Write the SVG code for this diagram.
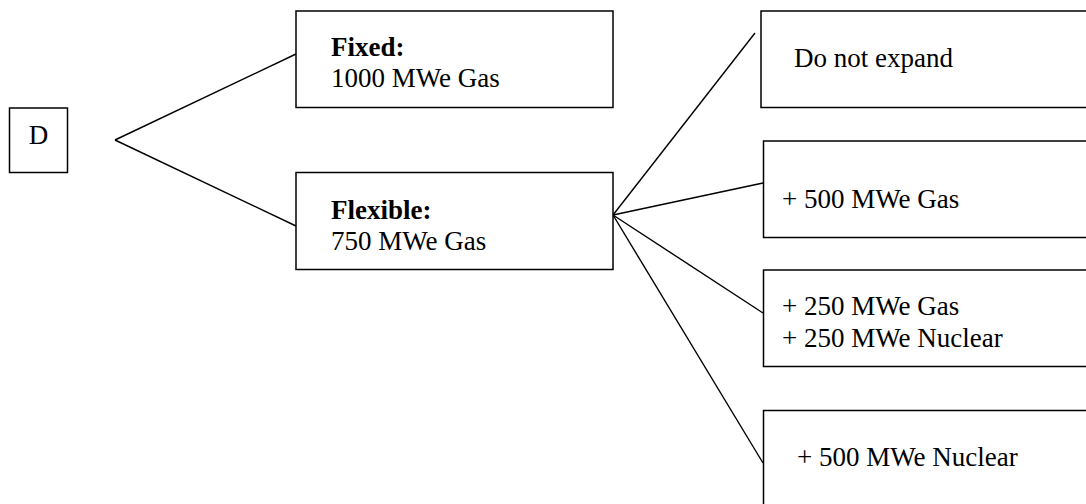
<svg xmlns="http://www.w3.org/2000/svg" width="1086" height="504" viewBox="0 0 1086 504">
<style>
.box{fill:#fff;stroke:#000;stroke-width:1.5}
.t{font-family:"Liberation Serif","Times New Roman",serif;font-size:27px;fill:#000}
.b{font-weight:bold}
.c{stroke:#000;stroke-width:1.4;fill:none}
</style>
<rect width="1086" height="504" fill="#fff"/>
<g id="connectors">
<line class="c" x1="115" y1="140" x2="296" y2="54"/>
<line class="c" x1="115" y1="140" x2="296" y2="226"/>
<line class="c" x1="613" y1="215" x2="755" y2="33"/>
<line class="c" x1="613" y1="215" x2="763" y2="183"/>
<line class="c" x1="613" y1="215" x2="763" y2="313"/>
<line class="c" x1="613" y1="215" x2="763" y2="463"/>
</g>
<g id="node-d">
<rect class="box" x="9.5" y="108" width="58" height="64.5"/>
<text class="t" x="38.5" y="144" text-anchor="middle">D</text>
</g>
<g id="node-fixed">
<rect class="box" x="296" y="11" width="317" height="96.5"/>
<text class="t b" x="331" y="56">Fixed:</text>
<text class="t" x="331" y="87">1000 MWe Gas</text>
</g>
<g id="node-flexible">
<rect class="box" x="296" y="172.5" width="317" height="97"/>
<text class="t b" x="331" y="219">Flexible:</text>
<text class="t" x="331" y="250">750 MWe Gas</text>
</g>
<g id="node-noexpand">
<rect class="box" x="761" y="11" width="340" height="96.5"/>
<text class="t" x="794" y="67">Do not expand</text>
</g>
<g id="node-gas500">
<rect class="box" x="763.5" y="141" width="340" height="96.5"/>
<text class="t" x="782" y="208">+ 500 MWe Gas</text>
</g>
<g id="node-mix">
<rect class="box" x="763.5" y="270" width="340" height="96.5"/>
<text class="t" x="782" y="315">+ 250 MWe Gas</text>
<text class="t" x="782" y="347">+ 250 MWe Nuclear</text>
</g>
<g id="node-nuc500">
<rect class="box" x="763.5" y="410.5" width="340" height="110"/>
<text class="t" x="797" y="466">+ 500 MWe Nuclear</text>
</g>
</svg>
